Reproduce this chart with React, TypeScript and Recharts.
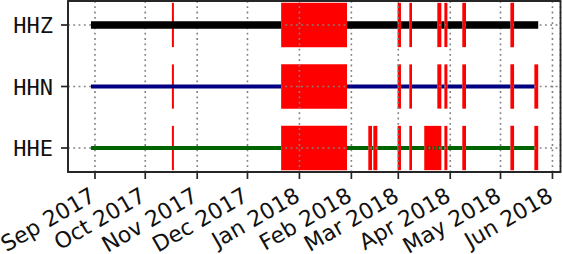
import { ComposedChart, Line, XAxis, YAxis, CartesianGrid, ReferenceArea } from "recharts";

// x values are days since 1 Sep 2017
const channels = ["HHE", "HHN", "HHZ"];
const channelColors = ["#006400", "#000080", "#000000"];
const channelWidths = [4, 4, 7.5];

const monthTicks = [0, 30, 61, 91, 122, 153, 181, 212, 242, 273];
const monthLabels = [
  "Sep 2017", "Oct 2017", "Nov 2017", "Dec 2017", "Jan 2018",
  "Feb 2018", "Mar 2018", "Apr 2018", "May 2018", "Jun 2018",
];

const dataStart = -2.4;
const dataEnd = 264.5;

// short gap drawn on every channel without breaking the trace
const markGaps: [number, number][] = [[45.9, 47.1]];

const gapsHHZ: [number, number][] = [
  [111.1, 150.4], [180.6, 182.6], [187.6, 189.2], [204.3, 206.7],
  [208.5, 210.3], [219.2, 221.4], [247.9, 250.1],
];
const gapsHHN: [number, number][] = [
  [111.1, 150.4], [180.6, 182.6], [187.6, 189.2], [204.3, 206.7],
  [208.5, 210.3], [219.2, 221.4], [247.9, 250.1], [262.2, 264.5],
];
const gapsHHE: [number, number][] = [
  [111.1, 150.4], [163.1, 165.3], [166.1, 168.5], [180.6, 182.6],
  [187.6, 189.2], [196.5, 206.7], [208.5, 210.3], [219.2, 221.4],
  [247.9, 250.1], [262.2, 264.5],
];
// tiny bits of HHE data between the clustered April gaps
const piecesHHE: [number, number][] = [
  [198.2, 199.0], [200.3, 201.1], [202.4, 203.2], [204.5, 205.3],
];
const channelGaps = [gapsHHE, gapsHHN, gapsHHZ];
const channelPieces = [piecesHHE, [], []] as [number, number][][];

const GAP_HALF = 0.36;
const INK = "#262626";

function traceData(level: number, gaps: [number, number][], pieces: [number, number][]) {
  const segs: [number, number][] = [];
  let cur = dataStart;
  for (const [a, b] of gaps) {
    if (a > cur) segs.push([cur, a]);
    cur = Math.max(cur, b);
  }
  if (cur < dataEnd) segs.push([cur, dataEnd]);
  const all = [...segs, ...pieces].sort((p, q) => p[0] - q[0]);
  const out: { x: number; y: number | null }[] = [];
  for (const [a, b] of all) out.push({ x: a, y: level }, { x: b, y: level }, { x: b, y: null });
  return out;
}

const XTick = ({ x, y, payload }: any) => {
  const i = monthTicks.indexOf(payload.value);
  const px = x + 2;
  const py = y + 19;
  return (
    <text
      x={px}
      y={py}
      textAnchor="end"
      transform={`rotate(-30, ${px}, ${py})`}
      fontFamily="DejaVu Sans"
      fontSize={22}
      fill="#111"
    >
      {monthLabels[i]}
    </text>
  );
};

const YTick = ({ x, y, payload }: any) => (
  <text x={x - 6} y={y + 8} textAnchor="end" fontFamily="DejaVu Sans Mono" fontSize={22} fill="#111">
    {channels[payload.value]}
  </text>
);

export default function App() {
  return (
    <div style={{ position: "absolute", left: 0, top: 0, background: "#fff" }}>
      <ComposedChart width={562} height={254} margin={{ top: 1, right: 1.5, bottom: 0, left: 0 }}>
        <XAxis
          dataKey="x"
          type="number"
          domain={[-16.1, 277.8]}
          allowDataOverflow
          ticks={monthTicks}
          tick={<XTick />}
          height={82}
          tickSize={7}
          axisLine={{ stroke: INK, strokeWidth: 1.8 }}
          tickLine={{ stroke: INK, strokeWidth: 1.7 }}
          interval={0}
        />
        <YAxis
          type="number"
          domain={[-0.39, 2.39]}
          allowDataOverflow
          ticks={[0, 1, 2]}
          tick={<YTick />}
          width={68}
          tickSize={7}
          axisLine={{ stroke: INK, strokeWidth: 1.8 }}
          tickLine={{ stroke: INK, strokeWidth: 1.7 }}
          interval={0}
        />
        {channelGaps.map((gaps, c) =>
          [...markGaps, ...gaps].map(([a, b], k) => (
            <ReferenceArea
              key={`g${c}-${k}`}
              x1={a}
              x2={b}
              y1={c - GAP_HALF}
              y2={c + GAP_HALF}
              fill="#ff0000"
              fillOpacity={1}
              stroke="none"
              zIndex={50}
            />
          ))
        )}
        <CartesianGrid stroke="#808080" strokeWidth={1.6} strokeDasharray="1.8 3.5" zIndex={150} />
        {channels.map((name, c) => (
          <Line
            key={name}
            data={traceData(c, channelGaps[c], channelPieces[c])}
            dataKey="y"
            stroke={channelColors[c]}
            strokeWidth={channelWidths[c]}
            strokeLinecap="butt"
            dot={false}
            activeDot={false}
            connectNulls={false}
            isAnimationActive={false}
            zIndex={400}
          />
        ))}
        <ReferenceArea
          x1={-16.1}
          x2={277.8}
          y1={-0.39}
          y2={2.39}
          fill="none"
          stroke={INK}
          strokeWidth={1.8}
          zIndex={500}
        />
      </ComposedChart>
    </div>
  );
}
